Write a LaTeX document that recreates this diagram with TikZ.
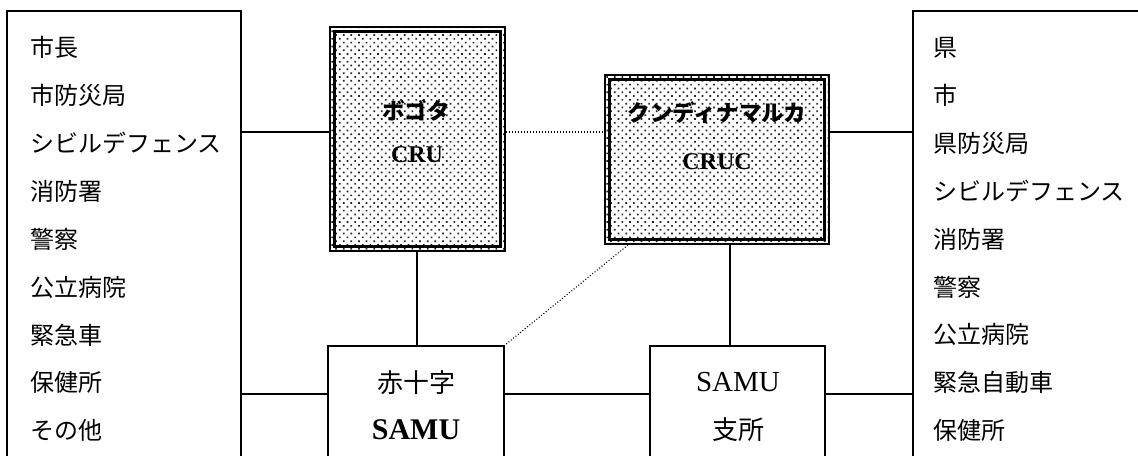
\documentclass[tikz,border=0pt]{standalone}
\usepackage{fontspec}
\setmainfont{Liberation Serif}
\newfontfamily\jp{Noto Sans CJK JP}
\usetikzlibrary{fit,patterns.meta}
\begin{document}
\begin{tikzpicture}[x=0.5pt,y=-0.5pt,
  box/.style={draw, line width=0.7pt, inner sep=0pt},
  shaded/.style={draw, line width=0.6pt, inner sep=0pt,
    pattern={Dots[distance=2.7pt,angle=45,radius=0.6pt]}, pattern color=black!85},
  innerframe/.style={line width=1.35pt},
  conn/.style={line width=0.9pt},
  dotline/.style={line width=0.55pt, dash pattern=on 0.5pt off 1pt},
  item/.style={anchor=west, inner sep=0pt, font=\jp\fontsize{12pt}{14pt}\selectfont},
  jplabel/.style={inner sep=0pt, font=\jp\fontsize{13pt}{15pt}\selectfont},
  jpbold/.style={inner sep=0pt, font=\jp\bfseries\fontsize{11.3pt}{13pt}\selectfont},
  latbold/.style={inner sep=0pt, font=\bfseries\fontsize{12pt}{14pt}\selectfont},
  latreg/.style={inner sep=0pt, font=\fontsize{14.5pt}{16pt}\selectfont},
  latbig/.style={inner sep=0pt, font=\bfseries\fontsize{15pt}{17pt}\selectfont}
]
\clip (0,0) rectangle (1138,455);
\fill[white] (0,0) rectangle (1138,455);

% side boxes (open at the bottom edge of the picture)
\node[box, fit={(7,11)(241,480)}] (lbox) {};
\node[box, fit={(913,11)(1160,480)}] (rbox) {};

% left list
\foreach \t [count=\i from 0] in {市長,市防災局,シビルデフェンス,消防署,警察,公立病院,緊急車,保健所,その他}
  \node[item] (l\i) at (30,{47.5+47.9*\i}) {\t};
% right list
\foreach \t [count=\i from 0] in {県,市,県防災局,シビルデフェンス,消防署,警察,公立病院,緊急自動車,保健所}
  \node[item] (r\i) at (933,{47.5+47.9*\i}) {\t};

% shaded centres
\node[shaded, fit={(330,27)(505,251)}] (bog) {};
\draw[innerframe] ([shift={(2.5pt,-2.5pt)}]bog.north west) rectangle ([shift={(-2.5pt,2.5pt)}]bog.south east);
\node[shaded, fit={(605,75)(829,244)}] (cruc) {};
\draw[innerframe] ([shift={(2.5pt,-2.5pt)}]cruc.north west) rectangle ([shift={(-2.5pt,2.5pt)}]cruc.south east);

\node[jpbold] (bogt) at (416,110) {ボゴタ};
\node[latbold] (bogc) at (417,155) {CRU};
\node[jpbold] (cruct) at (717,113) {クンディナマルカ};
\node[latbold] (crucc) at (717,162) {CRUC};

% lower boxes
\node[box, fit={(328,346)(504,480)}] (rc) {};
\node[box, fit={(650,346)(825,480)}] (samu) {};
\node[jplabel] (rct) at (416,383) {赤十字};
\node[latbig] (rcs) at (416,430) {SAMU};
\node[latreg] (samut) at (738,382) {SAMU};
\node[jplabel] (samus) at (738,430) {支所};

% connector levels
\coordinate (h1) at (0,132);
\coordinate (h2) at (0,394);
\coordinate (v1) at (417,0);
\coordinate (v2) at (730,0);
\coordinate (d1) at (628,245);

\draw[conn] (lbox.east |- h1) -- (bog.west |- h1);
\draw[dotline] (bog.east |- h1) -- (cruc.west |- h1);
\draw[conn] (cruc.east |- h1) -- (rbox.west |- h1);
\draw[conn] (lbox.east |- h2) -- (rc.west |- h2);
\draw[conn] (rc.east |- h2) -- (samu.west |- h2);
\draw[conn] (samu.east |- h2) -- (rbox.west |- h2);
\draw[conn] (bog.south -| v1) -- (rc.north -| v1);
\draw[conn] (cruc.south -| v2) -- (samu.north -| v2);
\draw[dotline] (d1) -- (rc.north east);
\end{tikzpicture}
\end{document}
